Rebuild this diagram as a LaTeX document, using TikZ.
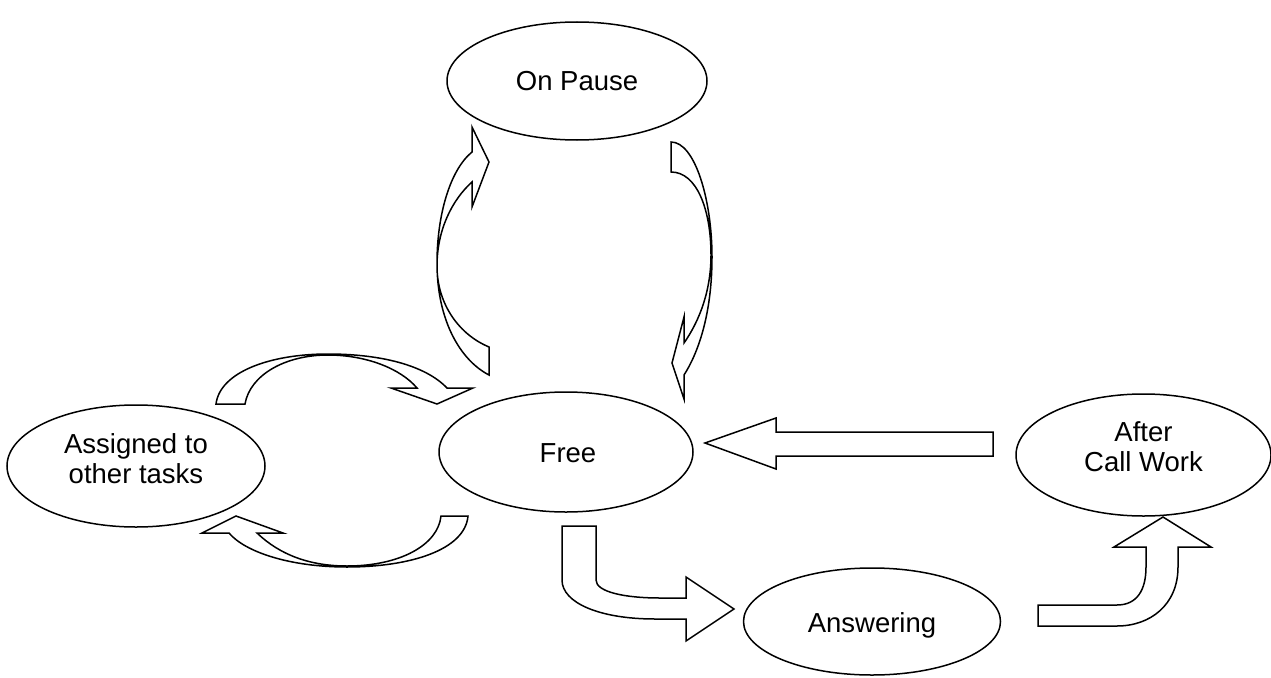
\documentclass[tikz,border=0pt]{standalone}
\usepackage{fontspec}
\setmainfont{Liberation Sans}
\usetikzlibrary{shapes.geometric}
\tikzset{
  state/.style={draw=black, line width=1.5pt, ellipse, inner sep=0pt},
  statetext/.style={inner sep=0pt, align=center, font=\fontsize{27.5}{30}\selectfont},
  blockarrow/.style={draw=black, line width=1.5pt, fill=white, line join=miter}
}
\begin{document}
\begin{tikzpicture}[x=1pt,y=-1pt]
\useasboundingbox[fill=white] (0,0) rectangle (1271,677);
% states
\node[state, minimum width=260pt, minimum height=118pt] (pause) at (577,81) {};
\node[statetext] (pauset) at (577,81) {On Pause};
\node[state, minimum width=254pt, minimum height=120pt] (free) at (566,452) {};
\node[statetext] (freet) at (568,453) {Free};
\node[state, minimum width=258pt, minimum height=122pt] (assigned) at (136,466) {};
\node[statetext] (assignedt) at (136,459) {Assigned to\\other tasks};
\node[state, minimum width=255pt, minimum height=122pt] (acw) at (1143.5,455) {};
\node[statetext] (acwt) at (1143.5,447) {After\\Call Work};
\node[state, minimum width=257pt, minimum height=107pt] (answer) at (872,621.5) {};
\node[statetext] (answert) at (872,625) {Answering};
% Free -> Assigned (upper arc)
\draw[blockarrow] (216,404) -- (245,404) .. controls (250,375) and (285,355) .. (328,355)
  .. controls (365,355) and (400,368) .. (417,388) -- (391,388) -- (437,404) -- (473,388)
  -- (447,388) .. controls (425,365) and (380,354) .. (328,354)
  .. controls (270,354) and (220,372) .. (216,404) -- cycle;
% Free -> Assigned (lower arc)
\draw[blockarrow] (441,516) -- (468,516) .. controls (465,550) and (410,567) .. (347,567)
  .. controls (290,567) and (245,552) .. (229,533) -- (202,533) -- (236,516) -- (283,533)
  -- (257,533) .. controls (280,555) and (310,566) .. (347,566)
  .. controls (400,566) and (438,545) .. (441,516) -- cycle;
% Free -> On Pause
\draw[blockarrow] (489,375) -- (489,347) .. controls (460,335) and (437,305) .. (437,266)
  .. controls (437,230) and (452,200) .. (472,182) -- (472,207) -- (489,162) -- (472,127)
  -- (472,152) .. controls (450,170) and (437,215) .. (437,263)
  .. controls (437,320) and (460,360) .. (489,375) -- cycle;
% On Pause -> Free
\draw[blockarrow] (671,142) .. controls (695,142) and (712,200) .. (712,257)
  .. controls (712,310) and (700,350) .. (684,375) -- (684,399) -- (672,363) -- (684,317)
  -- (684,343) .. controls (700,320) and (711,290) .. (711,255)
  .. controls (711,210) and (697,172) .. (671,172) -- cycle;
% After Call Work -> Free
\draw[blockarrow] (993,432) -- (776,432) -- (776,418) -- (705,443) -- (776,469) -- (776,456)
  -- (993,456) -- cycle;
% Free -> Answering
\draw[blockarrow] (562,526) -- (596,526) -- (596,580) .. controls (596,592) and (625,598) .. (660,598)
  -- (686,598) -- (686,577) -- (734,609) -- (686,641) -- (686,619) -- (655,619)
  .. controls (600,619) and (562,603) .. (562,580) -- cycle;
% Answering -> After Call Work
\draw[blockarrow] (1038,605) -- (1117,605) .. controls (1137,605) and (1146,590) .. (1146,567)
  -- (1146,547) -- (1114,547) -- (1163,517) -- (1211,547) -- (1178,547) -- (1178,567)
  .. controls (1178,605) and (1150,626) .. (1117,626) -- (1038,626) -- cycle;
\end{tikzpicture}
\end{document}
